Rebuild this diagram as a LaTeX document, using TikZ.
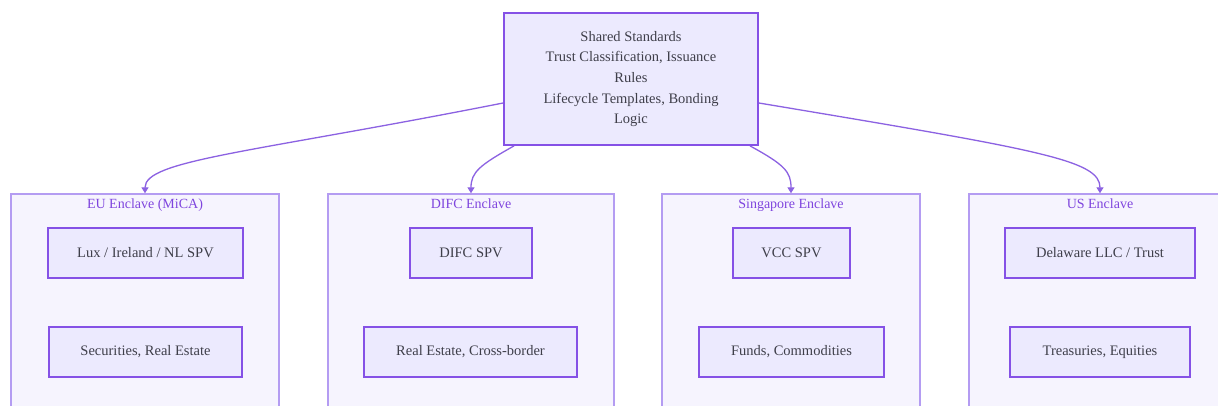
\documentclass[tikz,border=0pt]{standalone}
\usepackage{fontspec}
\setmainfont{Liberation Serif}
\usetikzlibrary{arrows.meta,calc}
\definecolor{nodefill}{HTML}{ECEAFE}
\definecolor{nodeborder}{HTML}{8551E6}
\definecolor{clfill}{HTML}{F6F4FE}
\definecolor{clborder}{HTML}{B49CF2}
\definecolor{cltext}{HTML}{7F45DE}
\definecolor{edgecol}{HTML}{8C62E2}
\definecolor{txt}{HTML}{3F3F4A}
\tikzset{
  x=1pt,y=-1pt,
  box/.style={draw=nodeborder,fill=nodefill,line width=1.8pt,inner sep=0pt,text=txt,font=\fontsize{14.5}{20.6}\selectfont},
  cluster/.style={draw=clborder,fill=clfill,line width=1.4pt,inner sep=0pt},
  cltitle/.style={text=cltext,font=\fontsize{14}{16}\selectfont,inner sep=0pt,anchor=base},
  link/.style={draw=edgecol,line width=1.3pt,-{Triangle[length=6pt,width=7pt]}}
}
\begin{document}
\begin{tikzpicture}
\useasboundingbox (0,0) rectangle (1218,406);
\clip (0,0) rectangle (1218,406);
\fill[white] (0,0) rectangle (1218,406);
% clusters
\node[cluster,minimum width=268pt,minimum height=240pt] (eu) at (145,314) {};
\node[cluster,minimum width=286pt,minimum height=240pt] (difc) at (471,314) {};
\node[cluster,minimum width=258pt,minimum height=240pt] (sg) at (791,314) {};
\node[cluster,minimum width=262pt,minimum height=240pt] (us) at (1100,314) {};
\node[cltitle] (eut) at (145,209) {EU Enclave (MiCA)};
\node[cltitle] (difct) at (471,209) {DIFC Enclave};
\node[cltitle] (sgt) at (791,209) {Singapore Enclave};
\node[cltitle] (ust) at (1100,209) {US Enclave};
% top
\node[box,minimum width=254pt,minimum height=132pt,align=center] (top) at (631,79)
  {Shared Standards\\Trust Classification, Issuance\\Rules\\Lifecycle Templates, Bonding\\Logic};
% inner nodes
\node[box,minimum width=195pt,minimum height=50pt] (eu1) at (145.5,253) {Lux / Ireland / NL SPV};
\node[box,minimum width=193pt,minimum height=50pt] (eu2) at (145.5,352) {Securities, Real Estate};
\node[box,minimum width=122pt,minimum height=50pt] (difc1) at (471,253) {DIFC SPV};
\node[box,minimum width=213pt,minimum height=50pt] (difc2) at (470.5,352) {Real Estate, Cross-border};
\node[box,minimum width=117pt,minimum height=50pt] (sg1) at (791.5,253) {VCC SPV};
\node[box,minimum width=185pt,minimum height=50pt] (sg2) at (791.5,352) {Funds, Commodities};
\node[box,minimum width=190pt,minimum height=50pt] (us1) at (1100,253) {Delaware LLC / Trust};
\node[box,minimum width=180pt,minimum height=50pt] (us2) at (1100,352) {Treasuries, Equities};
% connectors
\coordinate (s1) at ($(top.west)+(0,24)$);
\coordinate (s2) at ($(top.south)+(-117,0)$);
\coordinate (s3) at ($(top.south)+(119,0)$);
\coordinate (s4) at ($(top.east)+(0,24)$);
\draw[link] (s1) .. controls (250,153) and (145,160) .. (eu.north);
\draw[link] (s2) .. controls (480,165) and (471,172) .. (difc.north);
\draw[link] (s3) .. controls (785,165) and (791,172) .. (sg.north);
\draw[link] (s4) .. controls (1040,150) and (1100,160) .. (us.north);
\end{tikzpicture}
\end{document}
